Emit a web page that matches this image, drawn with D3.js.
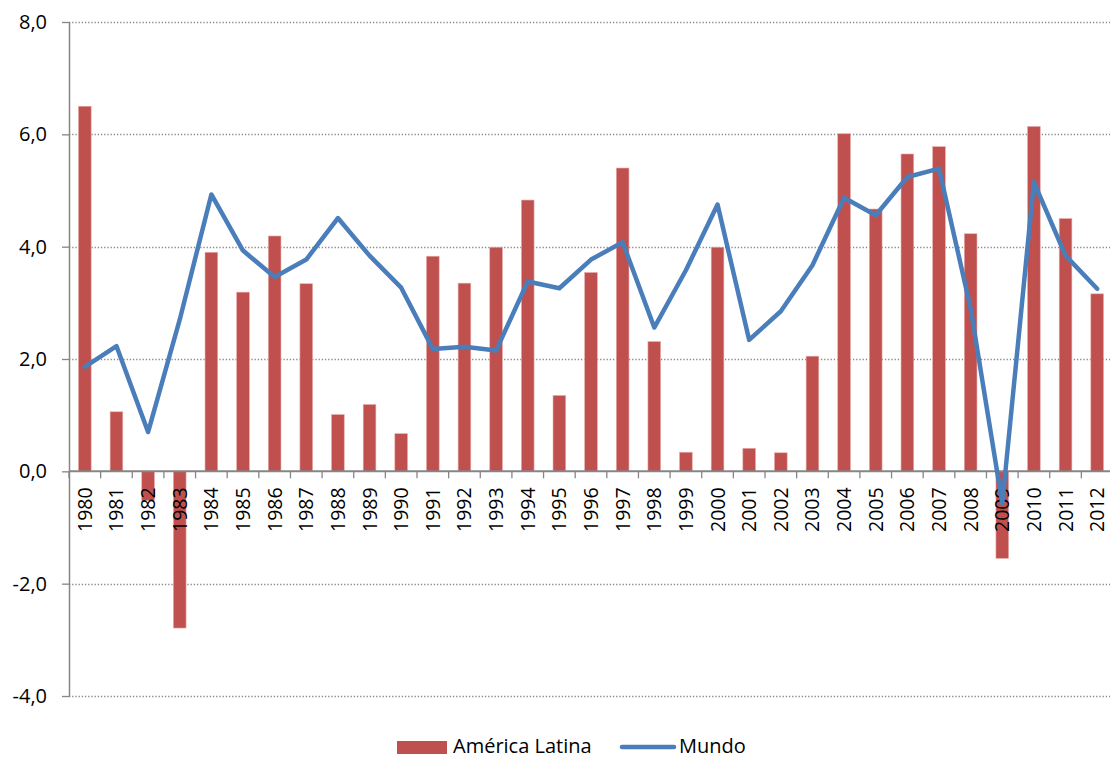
<!DOCTYPE html>
<html>
<head>
	<script src="https://cdn.jsdelivr.net/npm/d3@7"></script>
	<style>
		html, body {
			padding: 0;
			margin: 0;
			background: #fff;
		}
		text {
			font-family: "Open Sans", "Noto Sans", sans-serif;
			fill: #000;
		}
	</style>
</head>
<body>
	<script>
		// chart data
		var years = d3.range(1980, 2013).map(String);
		var americaLatina = [6.5, 1.06, -0.52, -2.79, 3.90, 3.19, 4.19, 3.34, 1.01, 1.19, 0.67,
			3.83, 3.35, 3.99, 4.83, 1.35, 3.54, 5.40, 2.31, 0.34, 3.99, 0.41, 0.33, 2.05,
			6.01, 4.67, 5.65, 5.78, 4.23, -1.55, 6.14, 4.50, 3.16];
		var mundo = [1.86, 2.23, 0.70, 2.7, 4.93, 3.93, 3.46, 3.77, 4.51, 3.84, 3.27,
			2.18, 2.22, 2.15, 3.38, 3.26, 3.77, 4.08, 2.56, 3.58, 4.75, 2.34, 2.85, 3.67,
			4.87, 4.56, 5.24, 5.39, 2.9, -0.57, 5.15, 3.84, 3.25];
		var yTicks = [-4, -2, 0, 2, 4, 6, 8];
		var seriesNames = ["América Latina", "Mundo"];

		var width = 1110, height = 758;
		var plotLeft = 69, plotRight = 1113, plotTop = 22, plotBottom = 696;

		var svg = d3.select('body').append('svg')
			.attr('width', width)
			.attr('height', height);

		var x = d3.scaleBand().domain(years).range([plotLeft, plotRight]).paddingInner(0.6).paddingOuter(0.3);
		var xc = function(i) { return x(years[i]) + x.bandwidth() / 2; };
		var y = d3.scaleLinear().domain([-4, 8]).range([plotBottom, plotTop]);

		var loc = d3.formatLocale({decimal: ",", thousands: ".", grouping: [3], currency: ["", ""], minus: "-"});
		var fmt = loc.format(".1f");

		/* gridlines */
		svg.append('g').selectAll('line')
			.data(yTicks.filter(function(d) { return d !== 0; }))
			.enter().append('line')
			.attr('x1', plotLeft).attr('x2', width)
			.attr('y1', function(d) { return Math.round(y(d)) + 0.5; })
			.attr('y2', function(d) { return Math.round(y(d)) + 0.5; })
			.attr('stroke', '#8a8a8a')
			.attr('stroke-width', 1.3)
			.attr('stroke-dasharray', '1.3,1.9');

		/* bars */
		svg.append('g').selectAll('rect')
			.data(americaLatina)
			.enter().append('rect')
			.attr('x', function(d, i) { return x(years[i]); })
			.attr('width', x.bandwidth())
			.attr('y', function(d) { return y(Math.max(0, d)); })
			.attr('height', function(d) { return Math.abs(y(d) - y(0)); })
			.attr('fill', '#C0504D')
			.attr('stroke', '#e6a9a7')
			.attr('stroke-width', 0.6);

		/* y axis */
		var yAxis = d3.axisLeft(y).tickValues(yTicks).tickSize(7).tickFormat(fmt).tickSizeOuter(0);
		var gy = svg.append('g').attr('transform', 'translate(' + plotLeft + ',0)').call(yAxis);
		gy.select('.domain').attr('stroke', '#868686').attr('stroke-width', 1.5);
		gy.selectAll('.tick line').attr('stroke', '#868686').attr('stroke-width', 1.3);
		gy.selectAll('.tick text')
			.attr('x', -22)
			.style('font-size', '20px')
			.style('font-family', '"Open Sans", sans-serif')
			.attr('fill', '#000');

		/* zero axis with category ticks */
		var gx = svg.append('g').attr('transform', 'translate(0,' + y(0) + ')');
		gx.append('line')
			.attr('x1', plotLeft).attr('x2', width)
			.attr('stroke', '#868686').attr('stroke-width', 2);
		var step = x.step();
		var bounds = d3.range(years.length + 1).map(function(k) { return plotLeft + step * k; });
		gx.selectAll('line.ct')
			.data(bounds.filter(function(b) { return b < width; }))
			.enter().append('line')
			.attr('class', 'ct')
			.attr('x1', function(d) { return d; }).attr('x2', function(d) { return d; })
			.attr('y1', 0).attr('y2', 7)
			.attr('stroke', '#868686').attr('stroke-width', 1.3);
		gx.selectAll('text')
			.data(years)
			.enter().append('text')
			.attr('transform', function(d, i) { return 'translate(' + (xc(i) + 7) + ',16) rotate(-90)'; })
			.attr('text-anchor', 'end')
			.style('font-size', '19.5px')
			.text(function(d) { return d; });

		/* world line */
		var line = d3.line()
			.x(function(d, i) { return xc(i); })
			.y(function(d) { return y(d); });
		svg.append('path')
			.datum(mundo)
			.attr('d', line)
			.attr('fill', 'none')
			.attr('stroke', '#4A7EBB')
			.attr('stroke-width', 4.5)
			.attr('stroke-linejoin', 'round')
			.attr('stroke-linecap', 'round');

		/* legend */
		var lg = svg.append('g');
		lg.append('rect')
			.attr('x', 397).attr('y', 741).attr('width', 50).attr('height', 13)
			.attr('fill', '#C0504D');
		lg.append('text')
			.attr('x', 453).attr('y', 753)
			.style('font-size', '20px')
			.text(seriesNames[0]);
		lg.append('line')
			.attr('x1', 622).attr('x2', 674).attr('y1', 747).attr('y2', 747)
			.attr('stroke', '#4A7EBB').attr('stroke-width', 4.5)
			.attr('stroke-linecap', 'round');
		lg.append('text')
			.attr('x', 679).attr('y', 753)
			.style('font-size', '20px')
			.text(seriesNames[1]);
	</script>
</body>
</html>
